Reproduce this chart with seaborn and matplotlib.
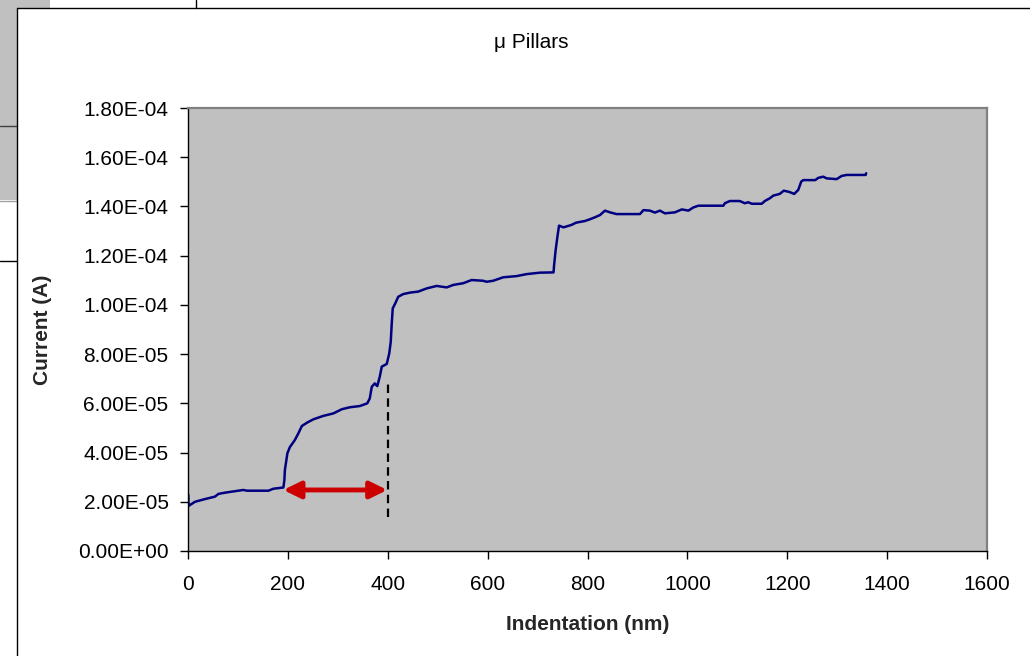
import matplotlib
matplotlib.use("Agg")
import matplotlib.pyplot as plt
import pandas as pd
import seaborn as sns
from matplotlib.patches import Rectangle
from matplotlib.lines import Line2D
from matplotlib.ticker import FuncFormatter

# Indentation depth (nm) and measured current (A) along the loading curve
indentation_nm = [
    0.6, 1, 4, 14, 34, 54, 61, 74, 94, 111, 118, 161, 171, 191,
    193, 194, 198, 199, 204, 214, 221, 228, 238, 251, 271, 291, 308, 324,
    344, 359, 364, 368, 374, 379, 384, 388, 398, 403, 406, 408, 410, 415,
    421, 431, 445, 461, 478, 498, 518, 531, 551, 568, 591, 598, 611, 631,
    658, 678, 705, 732, 733, 736, 740, 743, 752, 768, 777, 795, 805, 815,
    825, 835, 845, 858, 905, 912, 925, 935, 945, 955, 975, 989, 1002, 1012,
    1022, 1072, 1075, 1085, 1105, 1115, 1122, 1129, 1149, 1155, 1165, 1172,
    1185, 1193, 1204, 1214, 1222, 1228, 1232, 1256, 1262, 1272, 1279, 1299,
    1309, 1319, 1357, 1358,
]
current_a = [
    2.28e-5, 1.83e-5, 1.87e-5, 2.00e-5, 2.11e-5, 2.21e-5, 2.32e-5, 2.37e-5,
    2.43e-5, 2.48e-5, 2.45e-5, 2.45e-5, 2.53e-5, 2.58e-5,
    2.88e-5, 3.29e-5, 3.83e-5, 3.97e-5, 4.22e-5, 4.51e-5, 4.78e-5, 5.08e-5,
    5.21e-5, 5.35e-5, 5.49e-5, 5.59e-5, 5.76e-5, 5.84e-5,
    5.89e-5, 6.00e-5, 6.20e-5, 6.67e-5, 6.81e-5, 6.70e-5, 7.08e-5, 7.49e-5,
    7.60e-5, 8.03e-5, 8.50e-5, 9.25e-5, 9.86e-5, 1.006e-4,
    1.033e-4, 1.044e-4, 1.050e-4, 1.054e-4, 1.067e-4, 1.077e-4, 1.071e-4,
    1.081e-4, 1.088e-4, 1.101e-4, 1.098e-4, 1.094e-4, 1.098e-4, 1.112e-4,
    1.117e-4, 1.125e-4, 1.131e-4, 1.132e-4, 1.159e-4, 1.219e-4, 1.281e-4,
    1.322e-4, 1.315e-4, 1.325e-4, 1.334e-4, 1.341e-4, 1.348e-4, 1.356e-4,
    1.365e-4, 1.383e-4, 1.376e-4, 1.369e-4, 1.369e-4, 1.385e-4, 1.383e-4,
    1.375e-4, 1.383e-4, 1.372e-4, 1.376e-4, 1.388e-4, 1.383e-4, 1.396e-4,
    1.403e-4, 1.403e-4, 1.413e-4, 1.422e-4, 1.422e-4, 1.413e-4, 1.417e-4,
    1.411e-4, 1.411e-4, 1.422e-4, 1.433e-4, 1.444e-4,
    1.451e-4, 1.464e-4, 1.459e-4, 1.451e-4, 1.467e-4, 1.501e-4, 1.507e-4,
    1.507e-4, 1.516e-4, 1.521e-4, 1.514e-4, 1.511e-4,
    1.524e-4, 1.528e-4, 1.528e-4, 1.535e-4,
]

x_ticks = [0, 200, 400, 600, 800, 1000, 1200, 1400, 1600]
y_ticks = [0, 2e-5, 4e-5, 6e-5, 8e-5, 1e-4, 1.2e-4, 1.4e-4, 1.6e-4, 1.8e-4]

# Annotation: width of the first step and its end marker
gap_start_nm = 191
gap_end_nm = 399
gap_current = 2.48e-5
marker_nm = 400
marker_low = 1.4e-5
marker_high = 6.9e-5

sns.set_theme(style="ticks")
plt.rcParams["font.family"] = ["Liberation Sans", "DejaVu Sans"]

W, H = 1030, 656
fig = plt.figure(figsize=(W / 100, H / 100), dpi=100)
fig.patch.set_facecolor("white")


def fx(px):
    return px / W


def fy(py):
    return 1 - py / H


def box(x0, y0, x1, y1, color):
    fig.add_artist(Rectangle((fx(x0), fy(y1)), fx(x1) - fx(x0), fy(y0) - fy(y1),
                             transform=fig.transFigure, facecolor=color,
                             edgecolor="none", zorder=0))


def rule(x0, y0, x1, y1, color="black", lw=1.0):
    fig.add_artist(Line2D([fx(x0), fx(x1)], [fy(y0), fy(y1)],
                          transform=fig.transFigure, color=color, lw=lw, zorder=1))


# worksheet cells around the chart object
box(0, 0, 17, 200, "#C0C0C0")
box(0, 0, 50, 8, "#C0C0C0")
rule(0, 125.5, 17, 125.5, "#404040")
rule(0, 200.5, 17, 200.5, "#A0A0A0")
rule(0, 260.5, 17, 260.5, "black")
rule(196, 0, 196, 8, "black")
# chart object frame
rule(17, 7.5, W, 7.5, "black")
rule(17, 7.5, 17, H, "black")

ax = fig.add_axes([fx(188), fy(551), fx(987) - fx(188), fy(108) - fy(551)])
ax.set_facecolor("#C0C0C0")

df = pd.DataFrame({"indentation": indentation_nm, "current": current_a})
sns.lineplot(data=df, x="indentation", y="current", ax=ax, color="#000080",
             linewidth=1.8, estimator=None, sort=False, legend=False)

ax.vlines(marker_nm, marker_low, marker_high, colors="black", linewidth=1.6,
          linestyles=(0, (3.8, 2.4)))
ax.annotate("", xy=(gap_end_nm, gap_current), xytext=(gap_start_nm, gap_current),
            arrowprops=dict(arrowstyle="<|-|>,head_length=0.85,head_width=0.42",
                            mutation_scale=12, color="#CC0000", lw=3.5,
                            shrinkA=0, shrinkB=0))

ax.set_xlim(0, 1600)
ax.set_ylim(0, 1.8e-4)
ax.set_xticks(x_ticks)
ax.set_yticks(y_ticks)
ax.yaxis.set_major_formatter(FuncFormatter(lambda v, p: f"{v:.2E}"))
ax.tick_params(axis="both", direction="out", length=6, width=1,
               colors="black", labelsize=15)
ax.tick_params(axis="y", pad=8)
ax.tick_params(axis="x", pad=11)
ax.grid(False)

for side in ("left", "bottom"):
    ax.spines[side].set_color("black")
    ax.spines[side].set_linewidth(1.0)
for side in ("top", "right"):
    ax.spines[side].set_visible(True)
    ax.spines[side].set_color("#808080")
    ax.spines[side].set_linewidth(1.6)

ax.set_xlabel("Indentation (nm)", fontsize=15, fontweight="bold")
ax.set_ylabel("Current (A)", fontsize=15, fontweight="bold")
ax.xaxis.set_label_coords(0.5, (551 - 625) / 443)
ax.xaxis.label.set_va("center")
ax.yaxis.set_label_coords((43 - 188) / 799, 0.5)
ax.yaxis.label.set_va("center")

fig.text(fx(531), fy(42), "\u03bc Pillars", ha="center", va="center",
         fontsize=15, color="black")

fig.savefig("out.png", dpi=100, facecolor="white")
